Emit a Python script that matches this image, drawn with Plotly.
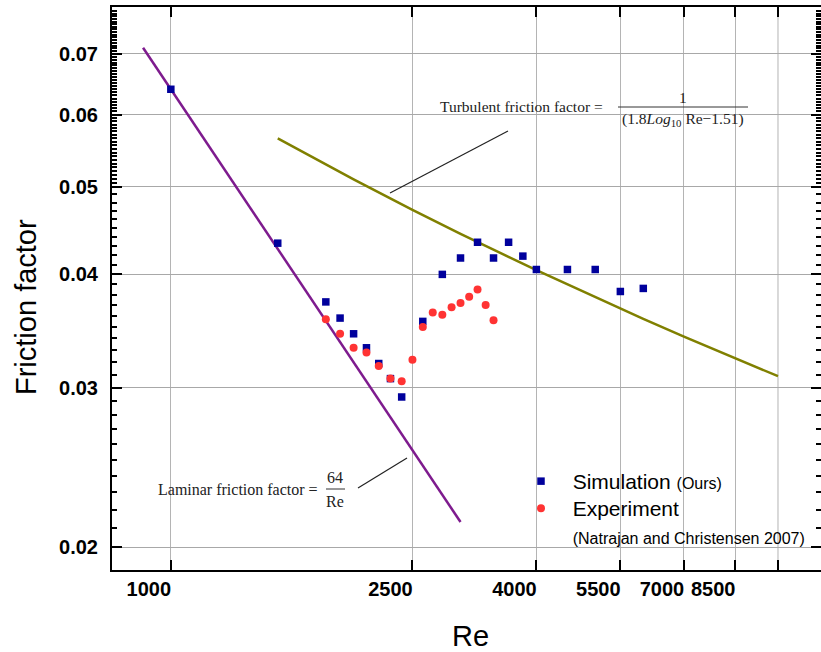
import numpy as np
import plotly.graph_objects as go

# Reynolds numbers and friction factors
re_sim = [1000, 1500, 1800, 1900, 2000, 2100, 2200, 2300, 2400, 2600, 2800,
          3000, 3200, 3400, 3600, 3800, 4000, 4500, 5000, 5500, 6000]
f_sim = [0.0640, 0.0433, 0.0373, 0.0358, 0.0344, 0.0332, 0.0319, 0.0307, 0.0293,
         0.0355, 0.0400, 0.0417, 0.0434, 0.0417, 0.0434, 0.0419, 0.0405, 0.0405,
         0.0405, 0.0383, 0.0386]

re_exp = [1800, 1900, 2000, 2100, 2200, 2300, 2400, 2500, 2600, 2700, 2800,
          2900, 3000, 3100, 3200, 3300, 3400]
f_exp = [0.0357, 0.0344, 0.0332, 0.0328, 0.0317, 0.0307, 0.0305, 0.0322, 0.0350,
         0.0363, 0.0361, 0.0368, 0.0372, 0.0378, 0.0385, 0.0370, 0.0356]

# Reference correlations, evaluated at these Re
re_lam = [900, 3000]
re_turb = [1500, 2000, 2500, 3000, 4000, 5000, 6000, 7000, 8500, 10000]
f_lam = [64.0 / r for r in re_lam]
f_turb = [1.0 / (1.8 * np.log10(r) - 1.51) ** 2 for r in re_turb]

x_ticks = [1000, 2500, 4000, 5500, 7000, 8500]
x_ticktext = ["1000", "2500", "4000", "5500", "7000", "8500"]
x_unlabeled = [10000]
y_ticks = [0.02, 0.03, 0.04, 0.05, 0.06, 0.07]
y_ticktext = ["0.02", "0.03", "0.04", "0.05", "0.06", "0.07"]
y_minor = [round(0.02 + 0.001 * i, 4) for i in range(1, 30)] + \
          [round(0.05 + 0.0005 * i, 5) for i in range(1, 57)]
y_minor = [v for v in y_minor if v not in y_ticks]

W, H = 821, 652
L, R, T, B = 112, 821, 7, 570


def px(x):
    return (x - L) / (R - L)


def py(y):
    return (B - y) / (B - T)


fig = go.Figure()
fig.add_trace(go.Scatter(x=re_lam, y=f_lam, mode="lines", showlegend=False,
                         line=dict(color="#7e1b8e", width=2.5), hoverinfo="skip"))
fig.add_trace(go.Scatter(x=re_turb, y=f_turb, mode="lines", showlegend=False,
                         line=dict(color="#808000", width=2.5), hoverinfo="skip"))
fig.add_trace(go.Scatter(x=re_sim, y=f_sim, mode="markers", legend="legend",
                         name="&nbsp;&nbsp;Simulation <span style='font-size:16px'>(Ours)</span>",
                         marker=dict(symbol="square", size=7.5, color="#00009c")))
fig.add_trace(go.Scatter(x=re_exp, y=f_exp, mode="markers", legend="legend2",
                         name="&nbsp;&nbsp;Experiment<br>&nbsp;&nbsp;<span style='font-size:16px'>(Natrajan and Christensen 2007)</span>",
                         marker=dict(symbol="circle", size=8, color="#ff3333")))

tickfont = dict(family="Liberation Sans", size=20, color="black", weight="bold")
fig.update_xaxes(type="log", range=[np.log10(800), 3 + (R - 171) / 607],
                 tickmode="array", tickvals=x_ticks, ticktext=x_ticktext,
                 ticks="inside", ticklen=10, tickwidth=2, tickcolor="black",
                 showline=True, linecolor="black", linewidth=2, mirror="ticks",
                 showgrid=True, gridcolor="#b4b4b4", gridwidth=1,
                 zeroline=False, tickfont=tickfont, ticklabelshift=-22,
                 ticklabelstandoff=0, automargin=False)
fig.update_yaxes(type="log", range=[-1.7239, -1.1031],
                 tickmode="array", tickvals=y_ticks, ticktext=y_ticktext,
                 ticks="inside", ticklen=10, tickwidth=2, tickcolor="black",
                 showline=True, linecolor="black", linewidth=2, mirror="ticks",
                 showgrid=True, gridcolor="#a8a8a8", gridwidth=1,
                 zeroline=False, tickfont=tickfont, ticklabelstandoff=8,
                 automargin=False,
                 minor=dict(tickmode="array", tickvals=y_minor, ticks="inside",
                            ticklen=5, tickwidth=2, tickcolor="black", showgrid=False))

serif = dict(family="Liberation Serif", color="#222222")
ann = []
# axis titles
ann.append(dict(x=px(26), y=py(307), text="Friction factor", textangle=-90,
                font=dict(family="Liberation Sans", size=29, color="black")))
ann.append(dict(x=px(470), y=py(636), text="Re",
                font=dict(family="Liberation Sans", size=29, color="black")))
# turbulent correlation label
ann.append(dict(x=px(605), y=py(106), text="Turbulent friction factor =", xanchor="right",
                font=dict(size=15.5, **serif)))
ann.append(dict(x=px(683), y=py(97), text="1", font=dict(size=15.5, **serif)))
ann.append(dict(x=px(683), y=py(119), text="(1.8<i>Log</i><sub>10</sub> Re\u22121.51)",
                font=dict(size=15.5, **serif)))
# laminar correlation label
ann.append(dict(x=px(320), y=py(489), text="Laminar friction factor =", xanchor="right",
                font=dict(size=16, **serif)))
ann.append(dict(x=px(335), y=py(478), text="64", font=dict(size=16, **serif)))
ann.append(dict(x=px(335), y=py(501), text="Re", font=dict(size=16, **serif)))
for a in ann:
    a.setdefault("xref", "paper")
    a.setdefault("yref", "paper")
    a.setdefault("xanchor", "center")
    a.setdefault("yanchor", "middle")
    a.setdefault("showarrow", False)

shapes = [
    dict(type="line", xref="paper", yref="paper", x0=px(618), x1=px(748), y0=py(107), y1=py(107),
         line=dict(color="#333333", width=1)),
    dict(type="line", xref="paper", yref="paper", x0=px(390), x1=px(508), y0=py(193), y1=py(131),
         line=dict(color="#222222", width=1.2)),
    dict(type="line", xref="paper", yref="paper", x0=px(326), x1=px(345), y0=py(489), y1=py(489),
         line=dict(color="#333333", width=1)),
    dict(type="line", xref="paper", yref="paper", x0=px(358), x1=px(407), y0=py(488), y1=py(458),
         line=dict(color="#222222", width=1.2)),
]
# unlabeled gridline and ticks at Re = 10000
tick_frac = 10 / (B - T)
for xv in x_unlabeled:
    shapes.append(dict(type="line", xref="x", yref="paper", x0=xv, x1=xv, y0=0, y1=1,
                       layer="below", line=dict(color="#b4b4b4", width=1)))
    shapes.append(dict(type="line", xref="x", yref="paper", x0=xv, x1=xv, y0=0, y1=tick_frac,
                       line=dict(color="black", width=2)))
    shapes.append(dict(type="line", xref="x", yref="paper", x0=xv, x1=xv, y0=1 - tick_frac, y1=1,
                       line=dict(color="black", width=2)))

legend_font = dict(family="Liberation Sans", size=21, color="black")
fig.update_layout(
    template="none",
    width=W, height=H,
    margin=dict(l=L, r=W - R, t=T, b=H - B, pad=0, autoexpand=False),
    paper_bgcolor="white", plot_bgcolor="white",
    annotations=ann, shapes=shapes,
    legend=dict(x=px(521), y=py(461), xanchor="left", yanchor="top",
                bgcolor="rgba(0,0,0,0)", valign="top", font=legend_font),
    legend2=dict(x=px(521), y=py(488), xanchor="left", yanchor="top",
                 bgcolor="rgba(0,0,0,0)", valign="top", font=legend_font),
)

fig.write_html("out.html")
